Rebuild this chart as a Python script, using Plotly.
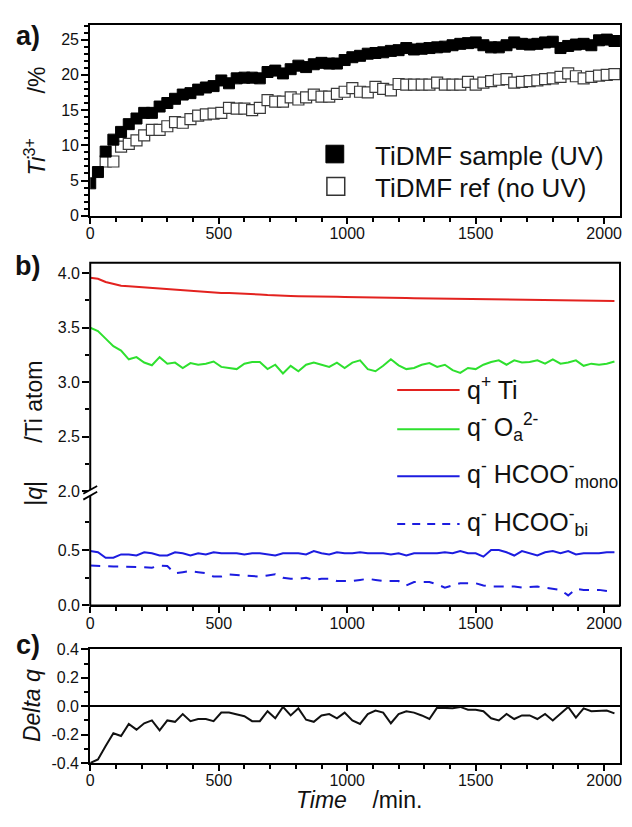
import plotly.graph_objects as go

# ---------------- data ----------------
time_min = list(range(0, 2041, 30))  # 69 points

ti3_sample = [4.6, 6.2, 9.1, 10.8, 11.9, 13.0, 13.8, 14.6, 14.6, 15.5,
              16.0, 16.6, 17.2, 17.4, 17.9, 18.2, 18.4, 19.2, 18.8, 19.5,
              19.6, 19.6, 19.5, 20.4, 20.6, 20.2, 20.8, 21.3, 21.1, 21.5,
              21.7, 21.6, 21.6, 22.1, 22.5, 22.7, 23.0, 23.1, 23.2, 23.4,
              23.5, 23.8, 23.6, 23.7, 23.8, 23.9, 24.0, 24.2, 24.4, 24.5,
              24.6, 24.2, 23.9, 23.9, 24.2, 24.6, 24.4, 24.3, 24.4, 24.6,
              24.7, 23.8, 24.1, 24.3, 24.4, 24.2, 24.9, 25.0, 24.8]

ti3_ref = [None, None, 7.7, 7.7, 9.8, 10.2, 10.7, 11.4, 12.2, 12.2,
           12.7, 13.3, 13.2, 13.7, 14.2, 14.4, 14.5, 14.6, 15.3, 15.2,
           15.2, 15.0, 15.3, 16.4, 16.2, 16.2, 16.8, 16.5, 16.8, 17.2,
           16.9, 16.9, 17.3, 17.6, 18.1, 17.6, 17.5, 18.3, 18.0, 17.8,
           18.7, 18.6, 18.6, 18.6, 18.6, 18.9, 18.6, 18.6, 18.6, 19.0,
           18.6, 18.9, 19.1, 19.3, 19.4, 18.9, 19.0, 19.1, 19.2, 19.4,
           19.5, 19.7, 20.2, 19.8, 19.5, 19.7, 19.9, 20.0, 20.1]

q_ti = [3.96, 3.95, 3.92, 3.90, 3.885, 3.88, 3.875, 3.865, 3.86, 3.855,
        3.85, 3.845, 3.84, 3.835, 3.83, 3.828, 3.825, 3.82, 3.818, 3.816,
        3.813, 3.81, 3.805, 3.80, 3.795, 3.793, 3.792, 3.79, 3.79, 3.788,
        3.786, 3.785, 3.784, 3.782, 3.78, 3.779, 3.778, 3.776, 3.775, 3.774,
        3.773, 3.772, 3.771, 3.77, 3.77, 3.769, 3.768, 3.767, 3.766, 3.765,
        3.765, 3.764, 3.764, 3.763, 3.762, 3.76, 3.758, 3.757, 3.757, 3.757,
        3.758, 3.757, 3.756, 3.754, 3.752, 3.75, 3.748, 3.746, 3.745]

q_oa = [3.50, 3.47, 3.40, 3.33, 3.29, 3.21, 3.23, 3.18, 3.155, 3.23,
        3.17, 3.18, 3.13, 3.175, 3.16, 3.17, 3.19, 3.14, 3.13, 3.12,
        3.17, 3.185, 3.185, 3.12, 3.16, 3.08, 3.15, 3.10, 3.16, 3.18,
        3.16, 3.14, 3.18, 3.13, 3.18, 3.20, 3.12, 3.10, 3.15, 3.21,
        3.155, 3.12, 3.13, 3.16, 3.175, 3.14, 3.16, 3.11, 3.085, 3.13,
        3.12, 3.16, 3.185, 3.20, 3.16, 3.20, 3.18, 3.185, 3.20, 3.17,
        3.21, 3.17, 3.18, 3.20, 3.15, 3.17, 3.16, 3.17, 3.19]

q_mono = [0.49, 0.48, 0.43, 0.43, 0.46, 0.46, 0.45, 0.48, 0.47, 0.45,
          0.45, 0.48, 0.47, 0.45, 0.47, 0.46, 0.48, 0.47, 0.47, 0.47,
          0.46, 0.47, 0.47, 0.46, 0.45, 0.47, 0.47, 0.47, 0.46, 0.49,
          0.47, 0.46, 0.48, 0.47, 0.47, 0.48, 0.47, 0.47, 0.47, 0.46,
          0.47, 0.45, 0.47, 0.47, 0.47, 0.47, 0.48, 0.47, 0.49, 0.47,
          0.47, 0.44, 0.50, 0.50, 0.48, 0.45, 0.49, 0.47, 0.45, 0.48,
          0.49, 0.47, 0.49, 0.46, 0.47, 0.47, 0.47, 0.48, 0.48]

q_bi = [0.36, 0.355, 0.35, 0.35, 0.35, 0.35, 0.35, 0.345, 0.34, 0.36,
        0.355, 0.29, 0.30, 0.31, 0.30, 0.29, 0.26, 0.26, 0.28, 0.275,
        0.27, 0.27, 0.26, 0.27, 0.28, 0.25, 0.24, 0.24, 0.25, 0.23,
        0.24, 0.24, 0.22, 0.22, 0.22, 0.23, 0.24, 0.23, 0.22, 0.22,
        0.22, 0.18, 0.21, 0.21, 0.21, 0.19, 0.16, 0.18, 0.20, 0.20,
        0.20, 0.18, 0.17, 0.17, 0.17, 0.17, 0.16, 0.165, 0.17, 0.16,
        0.15, 0.14, 0.09, 0.15, 0.14, 0.14, 0.14, 0.13, 0.12]

delta_q = [-0.40, -0.375, -0.28, -0.19, -0.21, -0.125, -0.165, -0.12, -0.10, -0.17,
           -0.10, -0.11, -0.055, -0.105, -0.09, -0.09, -0.105, -0.045, -0.045, -0.055,
           -0.07, -0.105, -0.105, -0.035, -0.085, -0.005, -0.065, -0.015, -0.095, -0.11,
           -0.065, -0.055, -0.085, -0.045, -0.10, -0.125, -0.055, -0.03, -0.045, -0.12,
           -0.055, -0.035, -0.045, -0.065, -0.09, -0.01, -0.01, -0.015, -0.005, -0.025,
           -0.025, -0.035, -0.085, -0.10, -0.055, -0.09, -0.065, -0.065, -0.09, -0.055,
           -0.10, -0.055, -0.005, -0.08, -0.015, -0.035, -0.035, -0.03, -0.05]

x_ticks = [0, 500, 1000, 1500, 2000]
dq_tickvals = [0.4, 0.2, 0.0, -0.2, -0.4]
dq_ticktext = ["0.4", "0.2", "0.0", "-0.2", "-0.4"]

# ---------------- layout helpers ----------------
# the page body has an 8px margin; coordinates below are given in window pixels.
# The figure is sized to fit inside the body so nothing overflows.
OFF = 8
W, H = 632 - 2 * OFF, 827 - 2 * OFF
FONT = "Liberation Sans, Arial, sans-serif"
TXT = "#111111"


def px(x):
    return (x - OFF) / W


def py(y):
    return 1 - (y - OFF) / H


XL, XR = 87, 622
X0_PX, X2000_PX = 87, 606           # pixel positions of t=0 and t=2000
XDOM = [px(XL), px(XR)]
XRANGE = [0, (XR - X0_PX) * 2000 / (X2000_PX - X0_PX)]

fig = go.Figure()

# panel a
fig.add_trace(go.Scatter(x=time_min, y=ti3_ref, mode="markers", name="TiDMF ref (no UV)",
                         marker=dict(symbol="square", size=11, color="white",
                                     line=dict(color="#3a3a3a", width=1.2)),
                         xaxis="x", yaxis="y"))
fig.add_trace(go.Scatter(x=time_min, y=ti3_sample, mode="markers", name="TiDMF sample (UV)",
                         marker=dict(symbol="square", size=11, color="black",
                                     line=dict(color="black", width=1)),
                         xaxis="x", yaxis="y"))
# panel b upper
fig.add_trace(go.Scatter(x=time_min, y=q_ti, mode="lines", line=dict(color="#e3221f", width=2),
                         xaxis="x2", yaxis="y2"))
fig.add_trace(go.Scatter(x=time_min, y=q_oa, mode="lines", line=dict(color="#2ee02e", width=2),
                         xaxis="x2", yaxis="y2"))
# panel b lower
fig.add_trace(go.Scatter(x=time_min, y=q_mono, mode="lines", line=dict(color="#1c1ce0", width=2),
                         xaxis="x3", yaxis="y3"))
fig.add_trace(go.Scatter(x=time_min, y=q_bi, mode="lines",
                         line=dict(color="#1c1ce0", width=2, dash="10px,8px"),
                         xaxis="x3", yaxis="y3"))
# panel c
fig.add_trace(go.Scatter(x=time_min, y=delta_q, mode="lines", line=dict(color="#111111", width=2),
                         xaxis="x4", yaxis="y4"))

tickfont = dict(family=FONT, size=16, color=TXT)


def xax(anchor, show=True):
    d = dict(domain=XDOM, range=XRANGE, anchor=anchor, showgrid=False, zeroline=False,
             tickfont=tickfont, fixedrange=True)
    if show:
        d.update(tickmode="array", tickvals=x_ticks, ticks="outside", ticklen=6, tickwidth=1.5,
                 tickcolor="black", showline=True, linecolor="black", linewidth=2,
                 ticklabelstandoff=-4,
                 minor=dict(dtick=100, tick0=0, ticks="outside", ticklen=4, tickwidth=1.5,
                            tickcolor="black"))
    else:
        d.update(showticklabels=False, ticks="", showline=False)
    return d


def yax(anchor, dom, rng, dtick, minor_dtick, fmt, showline=True):
    return dict(domain=dom, range=rng, anchor=anchor, showgrid=False, zeroline=False,
                tick0=0, dtick=dtick, tickformat=fmt, ticks="outside", ticklen=7,
                tickwidth=1.5, tickcolor="black", tickfont=tickfont,
                showline=showline, linecolor="black", linewidth=2, fixedrange=True,
                ticklabelstandoff=-1,
                minor=dict(dtick=minor_dtick, tick0=0, ticks="outside", ticklen=4,
                           tickwidth=1.5, tickcolor="black"))


A_TOP, A_BOT = 17, 212
B_TOP, B_BRK, B_BOT = 260, 498, 610
C_TOP, C_BOT = 655, 771

fig.update_layout(
    width=W, height=H, margin=dict(l=0, r=0, t=0, b=0),
    paper_bgcolor="white", plot_bgcolor="white", showlegend=False,
    font=dict(family=FONT, color=TXT),
    xaxis=dict(**xax("y"), mirror=True),
    yaxis=dict(**yax("x", [py(A_BOT), py(A_TOP)], [0, 27.1], 5, 1, "d"), mirror=True),
    xaxis2=xax("y2", show=False),
    yaxis2=yax("x2", [py(B_BRK), py(B_TOP)], [1.957, 4.097], 0.5, 0.25, ".1f", showline=False),
    xaxis3=xax("y3"),
    yaxis3=yax("x3", [py(B_BOT), py(B_BRK)], [0, 0.99], 0.5, 0.25, ".1f", showline=False),
    xaxis4=dict(**xax("y4"), mirror=True),
    yaxis4=dict(**yax("x4", [py(C_BOT), py(C_TOP)], [-0.4, 0.4], 0.2, 0.1, ".1f"),
                mirror=True),
)
fig.update_layout(yaxis4=dict(tickmode="array", tickvals=dq_tickvals, ticktext=dq_ticktext,
                              zeroline=True, zerolinecolor="black", zerolinewidth=2))

shapes = []
# panel b border
shapes.append(dict(type="rect", xref="paper", yref="paper", x0=px(XL), x1=px(XR),
                   y0=py(B_BOT), y1=py(B_TOP), line=dict(color="black", width=2),
                   fillcolor="rgba(0,0,0,0)"))
# axis break marks
shapes.append(dict(type="path", xref="paper", yref="paper",
                   path=f"M {px(80)},{py(496)} L {px(94)},{py(488)} L {px(94)},{py(494)} L {px(80)},{py(502)} Z",
                   fillcolor="white", line=dict(width=0)))
for dy in (0, 6):
    shapes.append(dict(type="line", xref="paper", yref="paper",
                       x0=px(80), y0=py(496 + dy), x1=px(94), y1=py(488 + dy),
                       line=dict(color="black", width=1.8)))
# legend symbols panel a
shapes.append(dict(type="rect", xref="paper", yref="paper", x0=px(325), x1=px(343),
                   y0=py(158), y1=py(140), fillcolor="black", line=dict(color="black", width=1)))
shapes.append(dict(type="rect", xref="paper", yref="paper", x0=px(326), x1=px(344),
                   y0=py(191), y1=py(173), fillcolor="white", line=dict(color="#333333", width=1.5)))
# legend lines panel b
leg_b = [(390, "#e3221f", None), (430, "#2ee02e", None), (478, "#1c1ce0", None),
         (527, "#1c1ce0", "8px,7px")]
for yy, col, dash in leg_b:
    ln = dict(color=col, width=2)
    if dash:
        ln["dash"] = dash
    shapes.append(dict(type="line", xref="paper", yref="paper", x0=px(397), x1=px(460),
                       y0=py(yy), y1=py(yy), line=ln))
fig.update_layout(shapes=shapes)

ann = []


def text(x, y, s, size, xanchor="center", yanchor="middle", angle=0, bold=False):
    if bold:
        s = f"<b>{s}</b>"
    ann.append(dict(xref="paper", yref="paper", x=px(x), y=py(y), text=s, showarrow=False,
                    xanchor=xanchor, yanchor=yanchor, textangle=angle,
                    font=dict(family=FONT, size=size, color=TXT)))


# panel labels
text(24, 28, "a)", 27, bold=True)
text(24, 263, "b)", 27, bold=True)
text(24, 650, "c)", 27, bold=True)
# axis titles
text(31, 115, "<i>Ti</i><sup>3+</sup>       /%", 23, angle=-90)
text(30, 434, "|<i>q</i>|      /Ti atom", 23, angle=-90)
text(28, 712, "<i>Delta q</i>", 23, angle=-90)
text(358, 809, "<i>Time</i>    /min.", 23)
# legend a
text(373, 151, "TiDMF sample (UV)", 26, xanchor="left")
text(373, 184, "TiDMF ref (no UV)", 26, xanchor="left")
# legend b
text(465, 388, "q<sup>+</sup> Ti", 25, xanchor="left")
text(465, 428, "q<sup>-</sup> O<sub>a</sub><sup>2-</sup>", 25, xanchor="left")
text(465, 476, "q<sup>-</sup> HCOO<sup>-</sup><sub>mono</sub>", 25, xanchor="left")
text(465, 525, "q<sup>-</sup> HCOO<sup>-</sup><sub>bi</sub>", 25, xanchor="left")
fig.update_layout(annotations=ann)

fig.write_html("out.html")
